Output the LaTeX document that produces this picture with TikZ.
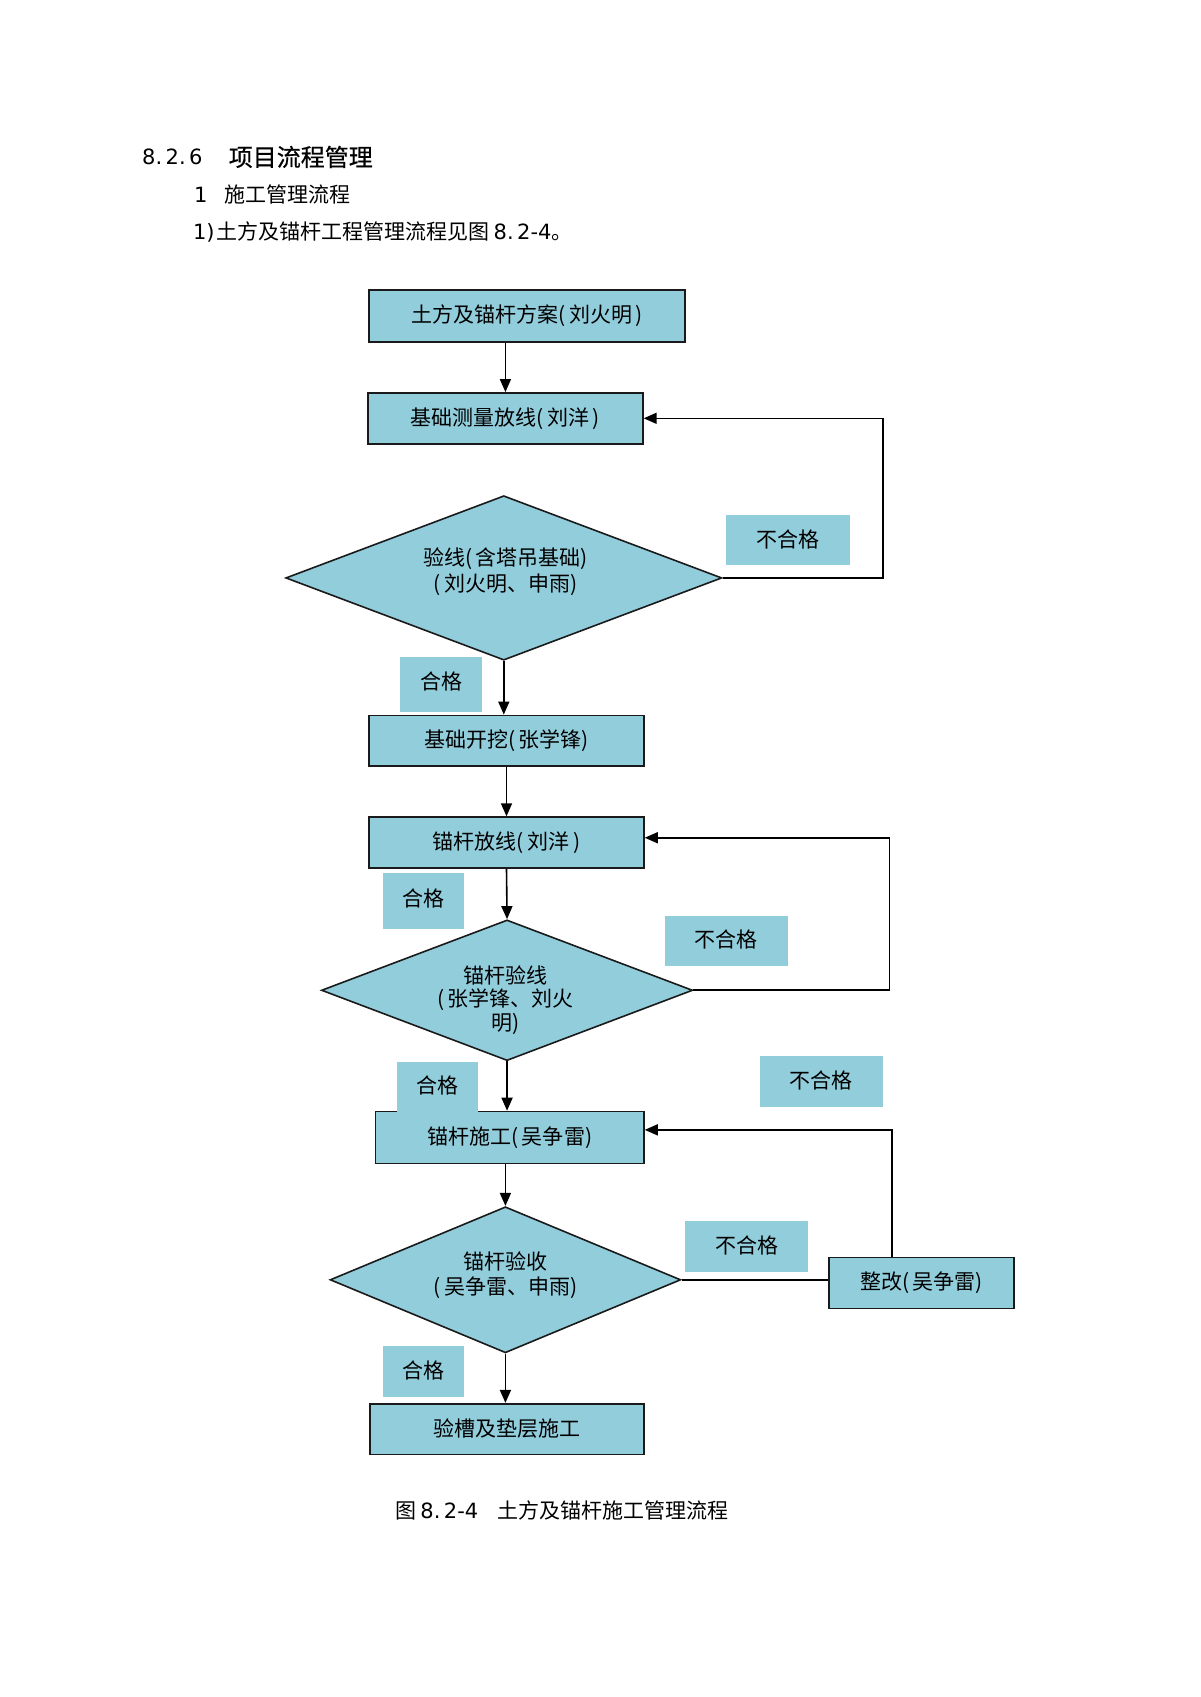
\documentclass[tikz,border=0pt]{standalone}
\usepackage{fontspec}
\setmainfont{Noto Sans CJK SC}
\newfontfamily\numfont{DejaVu Sans}
\newfontfamily\headfont[FakeBold=0.6]{Noto Sans CJK SC}
\usetikzlibrary{arrows.meta,shapes.geometric}
\definecolor{boxfill}{HTML}{92CDDC}
\definecolor{edgec}{HTML}{1A1A1A}
\newcommand\rz[1]{\raisebox{1.9pt}{#1}}
\begin{document}
\begin{tikzpicture}[x=0.54105pt,y=-0.54105pt,
  sz/.style 2 args={minimum width=#1*0.54105pt,minimum height=#2*0.54105pt},
  box/.style={draw=edgec,line width=0.8pt,fill=boxfill,inner sep=0pt,
    font=\fontsize{10.5}{13}\selectfont},
  dia/.style={diamond,draw=edgec,line width=0.8pt,fill=boxfill,inner sep=0pt},
  tag/.style={fill=boxfill,inner sep=0pt,font=\fontsize{10.5}{13}\selectfont},
  dtext/.style={align=center,inner sep=0pt},
  arr/.style={draw=black,line width=0.8pt,-{Triangle[length=6.5pt,width=5.5pt]}},
  ln/.style={draw=black,line width=0.8pt},
  txt/.style={anchor=west,inner sep=0pt}]
\useasboundingbox (0,0) rectangle (1109,1568);

% header text
\node[txt] (h1n) at (131,145) {\numfont\fontsize{10.5}{12}\selectfont 8.\,2.\,6};
\node[txt] (h1t) at (211,145) {\headfont\fontsize{12}{14}\selectfont 项目流程管理};
\node[txt] (h2n) at (179,180) {\numfont\fontsize{10.5}{12}\selectfont 1};
\node[txt] (h2t) at (207,180) {\fontsize{10.5}{13}\selectfont 施工管理流程};
\node[txt] (h3) at (178,214) {\fontsize{10.5}{13}\selectfont{\numfont 1)}\kern1pt 土方及锚杆工程管理流程见图\kern2pt{\numfont 8.\,2-4}。};

% boxes
\node[box,sz={292}{48}] (b1) at (487,292) {\rz{土方及锚杆方案(\,刘火明\,)}};
\node[box,sz={254}{47}] (b2) at (467,386.5) {\rz{基础测量放线(\,刘洋\,)}};
\node[dia,sz={403}{152}] (d1) at (465.5,534) {};
\node[dtext,font=\fontsize{10.5}{13}\selectfont] (d1t) at (467,528) {验线(\,含塔吊基础)\\(\,刘火明、申雨)};
\node[box,sz={254}{47}] (b3) at (468,684.5) {\rz{基础开挖(\,张学锋)}};
\node[box,sz={254}{47}] (b4) at (468,778.5) {\rz{锚杆放线(\,刘洋\,)}};
\node[dia,sz={343}{130}] (d2) at (468.5,915) {};
\node[dtext,font=\fontsize{10.5}{11.9}\selectfont] (d2t) at (467,924) {锚杆验线\\(\,张学锋、刘火\\明)};
\node[box,sz={248}{48}] (b5) at (471,1051) {\rz{锚杆施工(\,吴争雷)}};
\node[dia,sz={324}{135}] (d3) at (467,1182.5) {};
\node[dtext,font=\fontsize{10.5}{12.5}\selectfont] (d3t) at (467,1178.5) {锚杆验收\\(\,吴争雷、申雨)};
\node[box,sz={171}{47}] (b6) at (851.5,1185.5) {\rz{整改(\,吴争雷)}};
\node[box,sz={253}{47}] (b7) at (468.5,1320.5) {\rz{验槽及垫层施工}};

% labels
\node[tag,sz={114}{46}] (l1) at (728,499) {\rz{不合格}};
\node[tag,sz={75}{51}] (l2) at (407.5,632.5) {\rz{\rz{合格}}};
\node[tag,sz={75}{51}] (l3) at (391.5,832.5) {\rz{\rz{合格}}};
\node[tag,sz={114}{47}] (l4) at (671,869.5) {\rz{不合格}};
\node[tag,sz={75}{46}] (l5) at (404.5,1004) {\rz{合格}};
\node[tag,sz={114}{47}] (l6) at (759,999.5) {\rz{不合格}};
\node[tag,sz={114}{47}] (l7) at (690,1151.5) {\rz{不合格}};
\node[tag,sz={75}{47}] (l8) at (391.5,1267.5) {\rz{合格}};

% main flow
\draw[arr] (b1.south -| b2.north) -- (b2.north);
\draw[arr] (d1.south) -- (d1.south |- b3.north);
\draw[arr] (b3.south) -- (b4.north);
\draw[arr] (b4.south) -- (d2.north);
\draw[arr] (d2.south) -- (d2.south |- b5.north);
\draw[arr] (b5.south -| d3.north) -- (d3.north);
\draw[arr] (d3.south) -- (d3.south |- b7.north);

% feedback loops
\coordinate (f1) at (816,534);
\draw[arr] (d1.east) -- (f1) |- (b2.east);
\coordinate (f2) at (822,915);
\draw[arr] (d2.east) -- (f2) |- ([yshift=2.4pt]b4.east);
\draw[ln] (d3.east) -- (d3.east -| b6.west);
\draw[arr] ([xshift=-14.9pt]b6.north) |- ([yshift=3.8pt]b5.east);

% caption
\node[txt] (capa) at (365,1396) {\fontsize{10.5}{13}\selectfont 图\kern2pt{\numfont 8.\,2-4}};
\node[txt] (capb) at (459,1396) {\fontsize{10.5}{13}\selectfont 土方及锚杆施工管理流程};
\end{tikzpicture}
\end{document}
